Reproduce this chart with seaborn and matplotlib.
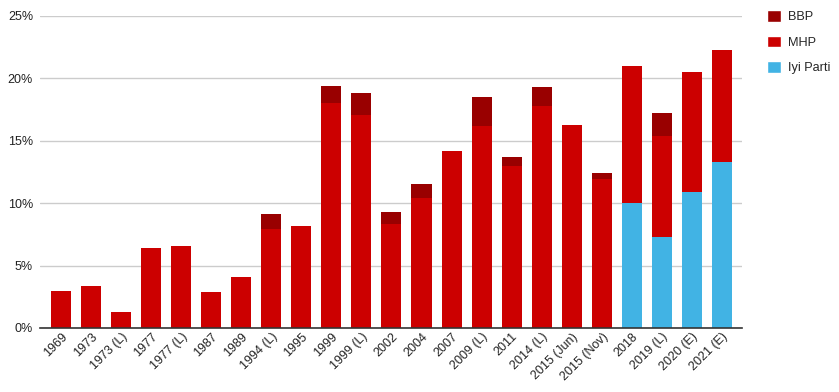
import matplotlib
matplotlib.use("Agg")
import matplotlib.pyplot as plt
from matplotlib.patches import Patch
import numpy as np
import pandas as pd
import seaborn as sns

labels = ["1969", "1973", "1973 (L)", "1977", "1977 (L)", "1987", "1989", "1994 (L)",
          "1995", "1999", "1999 (L)", "2002", "2004", "2007", "2009 (L)", "2011",
          "2014 (L)", "2015 (Jun)", "2015 (Nov)", "2018", "2019 (L)", "2020 (E)", "2021 (E)"]
mhp = [3.0, 3.4, 1.3, 6.4, 6.6, 2.9, 4.1, 7.9, 8.2, 18.0, 17.1, 8.3, 10.4, 14.2, 16.2,
       13.0, 17.8, 16.3, 11.9, 11.0, 8.1, 9.6, 9.0]
bbp = [0, 0, 0, 0, 0, 0, 0, 1.2, 0, 1.4, 1.7, 1.0, 1.1, 0, 2.3, 0.7, 1.5, 0, 0.5,
       0, 1.8, 0, 0]
iyi = [0] * 19 + [10.0, 7.3, 10.9, 13.3]

c_bbp = "#990000"
c_mhp = "#cc0000"
c_iyi = "#41b3e4"

sns.set_theme(style="white")
plt.rcParams["font.family"] = ["Liberation Sans", "DejaVu Sans"]

df = pd.DataFrame({"label": labels, "MHP": mhp, "BBP": bbp, "Iyi": iyi})
df["bottom_mhp"] = df["Iyi"]
df["bottom_bbp"] = df["Iyi"] + df["MHP"]

fig = plt.figure(figsize=(8.39, 3.92), dpi=100)
ax = fig.add_axes([40 / 839, (392 - 328) / 392, (742 - 40) / 839, (328 - 16) / 392])

w = 0.667
sns.barplot(data=df, x="label", y="Iyi", color=c_iyi, width=w, ax=ax,
            saturation=1, linewidth=0, order=labels)
sns.barplot(data=df, x="label", y="MHP", color=c_mhp, width=w, ax=ax,
            saturation=1, linewidth=0, order=labels, bottom=df["bottom_mhp"])
sns.barplot(data=df, x="label", y="BBP", color=c_bbp, width=w, ax=ax,
            saturation=1, linewidth=0, order=labels, bottom=df["bottom_bbp"])

ax.set_xlim(-0.7, len(labels) - 1 + 0.67)
ax.set_ylim(0, 25)
ax.set_yticks([0, 5, 10, 15, 20, 25])
ax.set_yticklabels([f"{v}%" for v in [0, 5, 10, 15, 20, 25]])
ax.yaxis.grid(True, color="#cccccc", linewidth=1)
ax.set_axisbelow(True)
for s in ["top", "right", "left"]:
    ax.spines[s].set_visible(False)
ax.spines["bottom"].set_color("#333333")
ax.spines["bottom"].set_linewidth(1.2)
ax.set_xlabel("")
ax.set_ylabel("")
ax.tick_params(axis="both", length=0, labelsize=9, colors="#222222")
ax.tick_params(axis="y", pad=5)
ax.tick_params(axis="x", pad=2)
ax.set_xticks(range(len(labels)))
ax.set_xticklabels(labels, rotation=45, ha="right", va="top", rotation_mode="anchor")

handles = [Patch(facecolor=c_bbp, label="BBP"),
           Patch(facecolor=c_mhp, label="MHP"),
           Patch(facecolor=c_iyi, label="Iyi Parti")]
fig.legend(handles=handles, loc="upper left", bbox_to_anchor=(762 / 839, 1 - 5 / 392),
           frameon=False, fontsize=9.2, handlelength=1.05, handleheight=1.05,
           handletextpad=0.6, labelspacing=0.95, borderaxespad=0)

fig.savefig("out.png", dpi=100)
